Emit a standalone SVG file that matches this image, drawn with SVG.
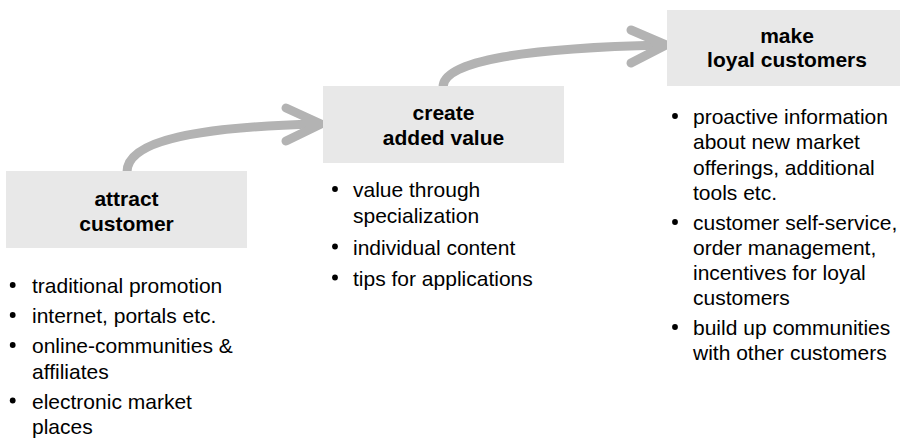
<svg xmlns="http://www.w3.org/2000/svg" width="900" height="440" viewBox="0 0 900 440">
<style>
.box{fill:#e8e8e8;}
.hd{font-family:"Liberation Sans",Arial,sans-serif;font-size:21px;font-weight:bold;fill:#000;text-anchor:middle;}
.bt{font-family:"Liberation Sans",Arial,sans-serif;font-size:21px;fill:#000;}
.dot{fill:#000;}
.arr{fill:none;stroke:#b3b3b3;stroke-width:9;stroke-linecap:round;stroke-linejoin:round;}
</style>
<rect width="900" height="440" fill="#fff"/>
<g id="connectors">
<path class="arr" d="M127,172 C127,140 200,127 316,124"/>
<path class="arr" d="M286,108 L321,124 L286,141"/>
<path class="arr" d="M443,87 C443,60 530,48 662,45"/>
<path class="arr" d="M631,30 L666,45 L631,63"/>
</g>
<g id="attract">
<rect class="box" x="6" y="171" width="241" height="77"/>
<text class="hd" x="126.5" y="206">attract</text>
<text class="hd" x="126.5" y="231">customer</text>
<circle class="dot" cx="12.7" cy="285" r="2.9"/>
<text class="bt" x="32" y="293">traditional promotion</text>
<circle class="dot" cx="12.7" cy="315" r="2.9"/>
<text class="bt" x="32" y="323">internet, portals etc.</text>
<circle class="dot" cx="12.7" cy="345" r="2.9"/>
<text class="bt" x="32" y="353">online-communities &amp;</text>
<text class="bt" x="32" y="378.5">affiliates</text>
<circle class="dot" cx="12.7" cy="400.5" r="2.9"/>
<text class="bt" x="32" y="408.5">electronic market</text>
<text class="bt" x="32" y="434">places</text>
</g>
<g id="create">
<rect class="box" x="323" y="86" width="241" height="77"/>
<text class="hd" x="443.5" y="120">create</text>
<text class="hd" x="443.5" y="145">added value</text>
<circle class="dot" cx="335" cy="189" r="2.9"/>
<text class="bt" x="353" y="197">value through</text>
<text class="bt" x="353" y="222.5">specialization</text>
<circle class="dot" cx="335" cy="246.5" r="2.9"/>
<text class="bt" x="353" y="254.5">individual content</text>
<circle class="dot" cx="335" cy="277.5" r="2.9"/>
<text class="bt" x="353" y="285.5">tips for applications</text>
</g>
<g id="loyal">
<rect class="box" x="667" y="10" width="241" height="76"/>
<text class="hd" x="787" y="43">make</text>
<text class="hd" x="787" y="67">loyal customers</text>
<circle class="dot" cx="675" cy="116" r="2.9"/>
<text class="bt" x="693" y="124">proactive information</text>
<text class="bt" x="693" y="149">about new market</text>
<text class="bt" x="693" y="175">offerings, additional</text>
<text class="bt" x="693" y="200">tools etc.</text>
<circle class="dot" cx="675" cy="222" r="2.9"/>
<text class="bt" x="693" y="230">customer self-service,</text>
<text class="bt" x="693" y="255">order management,</text>
<text class="bt" x="693" y="280">incentives for loyal</text>
<text class="bt" x="693" y="305">customers</text>
<circle class="dot" cx="675" cy="327" r="2.9"/>
<text class="bt" x="693" y="335">build up communities</text>
<text class="bt" x="693" y="360">with other customers</text>
</g>
</svg>
